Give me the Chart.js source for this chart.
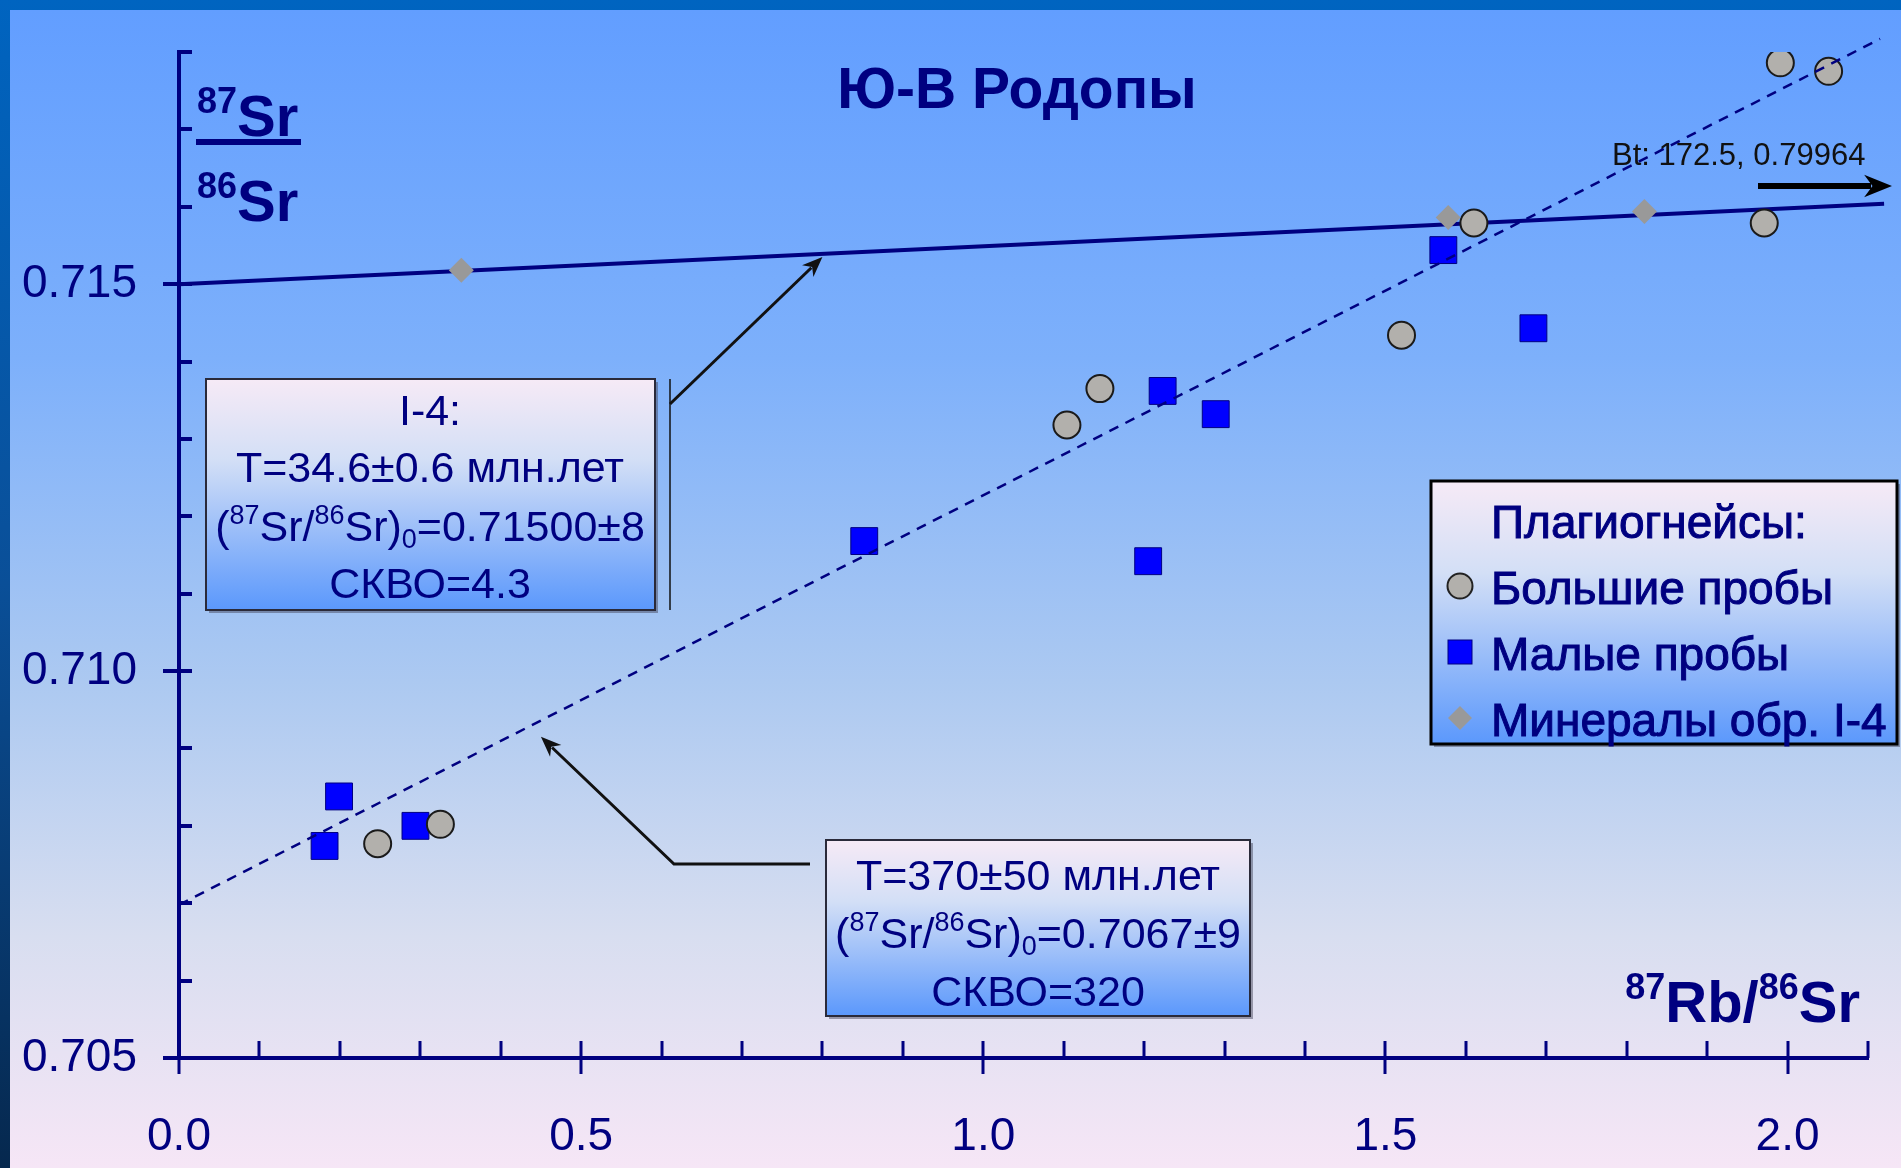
<!DOCTYPE html>
<html lang="ru">
<head>
<meta charset="utf-8">
<title>Ю-В Родопы — Rb-Sr изохроны</title>
<script src="https://cdn.jsdelivr.net/npm/chart.js@4.4.1/dist/chart.umd.min.js"></script>
<style>
    html, body { margin: 0; padding: 0; background: #0060b8; overflow: hidden; }
    #chart { display: block; }
</style>
</head>
<body>
<canvas id="chart" width="1901" height="1168"></canvas>
<script>
/**
 * Rb-Sr диаграмма плагиогнейсов Ю-В Родоп.
 * Оси, точки и линии рисует Chart.js; фон слайда, подписи в рамках,
 * стрелки и легенда — небольшие плагины поверх тех же шкал.
 */

// Плагиогнейсы: большие пробы (серые кружки)
const bigX = [0.247, 0.325, 1.104, 1.145, 1.520, 1.610, 1.971, 1.991, 2.051];
const bigY = [0.70777, 0.70802, 0.71318, 0.71365, 0.71434, 0.71579, 0.71579, 0.71786, 0.71775];

// Плагиогнейсы: малые пробы (синие квадраты)
const smallX = [0.181, 0.199, 0.294, 0.852, 1.205, 1.223, 1.289, 1.572, 1.684];
const smallY = [0.70774, 0.70838, 0.70800, 0.71168, 0.71142, 0.71362, 0.71332, 0.71544, 0.71443];

// Минералы обр. I-4 (серые ромбы)
const mineralX = [0.351, 1.578, 1.822];
const mineralY = [0.71518, 0.71586, 0.71594];

// Изохроны: концы отрезков
const isoMineralX = [0, 2.12];
const isoMineralY = [0.71500, 0.71604];
const isoRockX = [0, 2.115];
const isoRockY = [0.70698, 0.71817];

// Шкалы
const X_MIN = 0, X_MAX = 2.1, X_STEP = 0.1;
const Y_MIN = 0.705, Y_MAX = 0.718, Y_STEP = 0.001;

const NAVY = "#000080";
const FONT = "'Liberation Sans', Arial, Helvetica, sans-serif";

const pts = (xs, ys) => xs.map((x, i) => ({ x, y: ys[i] }));

/** Текст с верхними/нижними индексами: parts = [[текст, 0|1|2], ...] */
function drawRich(ctx, parts, x, y, size, weight, align, color, stroke = 0) {
    const fontFor = (k) => `${weight} ${k ? Math.round(size * 0.62) : size}px ${FONT}`;
    let w = 0;
    parts.forEach(([t, k]) => { ctx.font = fontFor(k); w += ctx.measureText(t).width; });
    let cx = align === "center" ? x - w / 2 : align === "right" ? x - w : x;
    ctx.fillStyle = color;
    ctx.strokeStyle = color;
    ctx.lineWidth = stroke;
    ctx.textAlign = "left";
    ctx.textBaseline = "alphabetic";
    parts.forEach(([t, k]) => {
        ctx.font = fontFor(k);
        const dy = k === 1 ? -size * 0.4 : k === 2 ? size * 0.17 : 0;
        ctx.fillText(t, cx, y + dy);
        if (stroke) ctx.strokeText(t, cx, y + dy);
        cx += ctx.measureText(t).width;
    });
}

function drawArrow(ctx, pts, width, head, color) {
    ctx.save();
    ctx.strokeStyle = color;
    ctx.fillStyle = color;
    ctx.lineWidth = width;
    ctx.lineJoin = "miter";
    const n = pts.length;
    const [x1, y1] = pts[n - 2];
    const [x2, y2] = pts[n - 1];
    const a = Math.atan2(y2 - y1, x2 - x1);
    ctx.beginPath();
    ctx.moveTo(pts[0][0], pts[0][1]);
    for (let i = 1; i < n - 1; i++) ctx.lineTo(pts[i][0], pts[i][1]);
    ctx.lineTo(x2 - Math.cos(a) * head * 0.7, y2 - Math.sin(a) * head * 0.7);
    ctx.stroke();
    // наконечник «стрелка с выемкой»
    ctx.beginPath();
    ctx.moveTo(x2, y2);
    ctx.lineTo(x2 - Math.cos(a - 0.38) * head, y2 - Math.sin(a - 0.38) * head);
    ctx.lineTo(x2 - Math.cos(a) * head * 0.65, y2 - Math.sin(a) * head * 0.65);
    ctx.lineTo(x2 - Math.cos(a + 0.38) * head, y2 - Math.sin(a + 0.38) * head);
    ctx.closePath();
    ctx.fill();
    ctx.restore();
}

function boxGradient(ctx, top, bottom) {
    const g = ctx.createLinearGradient(0, top, 0, bottom);
    g.addColorStop(0, "#f6eaf6");
    g.addColorStop(0.35, "#d3dff6");
    g.addColorStop(1, "#5b98fc");
    return g;
}

function drawBox(ctx, l, t, r, b, border, lw) {
    ctx.save();
    ctx.fillStyle = "rgba(60,60,80,0.45)";
    ctx.fillRect(l + 3, t + 3, r - l, b - t);
    ctx.fillStyle = boxGradient(ctx, t, b);
    ctx.fillRect(l, t, r - l, b - t);
    ctx.strokeStyle = border;
    ctx.lineWidth = lw;
    ctx.strokeRect(l, t, r - l, b - t);
    ctx.restore();
}

// Фон слайда: тёмная рамка + градиент голубой → розоватый
const slideBackground = {
    id: "slideBackground",
    beforeDraw(chart) {
        const { ctx, width, height } = chart;
        ctx.save();
        const frame = ctx.createLinearGradient(0, 0, 0, height);
        frame.addColorStop(0, "#0064c0");
        frame.addColorStop(0.5, "#0a4f98");
        frame.addColorStop(1, "#06284e");
        ctx.fillStyle = frame;
        ctx.fillRect(0, 0, width, height);
        const g = ctx.createLinearGradient(0, 10, 0, height);
        g.addColorStop(0, "#629eff");
        g.addColorStop(0.3, "#7db0fb");
        g.addColorStop(0.58, "#acc9f1");
        g.addColorStop(0.8, "#d8def0");
        g.addColorStop(1, "#f6e6f6");
        ctx.fillStyle = g;
        ctx.fillRect(10, 10, width - 10, height - 10);
        ctx.restore();
    },
};

// Засечки осей: большие через 0.005 / 0.5 (насквозь), малые внутрь
const axisTicks = {
    id: "axisTicks",
    afterDatasetsDraw(chart) {
        const { ctx, chartArea: a, scales: { x, y } } = chart;
        ctx.save();
        ctx.strokeStyle = NAVY;
        ctx.lineCap = "butt";
        y.ticks.forEach((t) => {
            const py = Math.round(y.getPixelForValue(t.value));
            const major = Math.round(t.value * 1000) % 5 === 0;
            ctx.lineWidth = 4;
            ctx.beginPath();
            ctx.moveTo(major ? a.left - 16 : a.left, py);
            ctx.lineTo(a.left + 13, py);
            ctx.stroke();
        });
        x.ticks.forEach((t) => {
            const px = Math.round(x.getPixelForValue(t.value));
            const major = Math.round(t.value * 10) % 5 === 0;
            ctx.lineWidth = 3;
            ctx.beginPath();
            ctx.moveTo(px, major ? a.bottom + 16 : a.bottom);
            ctx.lineTo(px, a.bottom - 17);
            ctx.stroke();
        });
        ctx.restore();
    },
};

// Заголовок, подписи осей, рамки с возрастами, стрелки, легенда
const annotations = {
    id: "annotations",
    afterDraw(chart) {
        const { ctx, scales: { x, y } } = chart;
        ctx.save();

        // заголовок
        drawRich(ctx, [["Ю-В Родопы", 0]], 1017, 108, 57, "bold", "center", NAVY);

        // подпись оси Y: 87Sr / 86Sr
        drawRich(ctx, [["87", 1], ["Sr", 0]], 197, 136, 58, "bold", "left", NAVY);
        ctx.fillStyle = NAVY;
        ctx.fillRect(196, 139, 105, 6);
        drawRich(ctx, [["86", 1], ["Sr", 0]], 197, 221, 58, "bold", "left", NAVY);

        // подпись оси X
        drawRich(ctx, [["87", 1], ["Rb/", 0], ["86", 1], ["Sr", 0]], 1860, 1022, 58, "bold", "right", NAVY);

        // Bt вне поля
        drawRich(ctx, [["Bt: 172.5, 0.79964", 0]], 1612, 165, 31, "normal", "left", "#111");
        drawArrow(ctx, [[1758, 186], [1892, 186]], 6, 30, "#000");

        // рамка I-4 и выноска к изохроне минералов
        drawBox(ctx, 206, 379, 655, 610, "#2a2a3a", 2);
        const sub0 = [["(", 0], ["87", 1], ["Sr/", 0], ["86", 1], ["Sr)", 0], ["0", 2]];
        drawRich(ctx, [["I-4:", 0]], 430, 425, 43, "normal", "center", NAVY);
        drawRich(ctx, [["T=34.6±0.6 млн.лет", 0]], 430, 482, 43, "normal", "center", NAVY);
        drawRich(ctx, [...sub0, ["=0.71500±8", 0]], 430, 541, 43, "normal", "center", NAVY);
        drawRich(ctx, [["СКВО=4.3", 0]], 430, 598, 43, "normal", "center", NAVY);
        ctx.strokeStyle = "#111";
        ctx.lineWidth = 1.5;
        ctx.beginPath();
        ctx.moveTo(670, 379);
        ctx.lineTo(670, 610);
        ctx.stroke();
        drawArrow(ctx, [[670, 404], [x.getPixelForValue(0.80), y.getPixelForValue(0.71535)]], 3, 22, "#111");

        // рамка валовых проб и выноска к изохроне
        drawBox(ctx, 826, 840, 1250, 1016, "#2a2a3a", 2);
        drawRich(ctx, [["T=370±50 млн.лет", 0]], 1038, 890, 43, "normal", "center", NAVY);
        drawRich(ctx, [...sub0, ["=0.7067±9", 0]], 1038, 948, 43, "normal", "center", NAVY);
        drawRich(ctx, [["СКВО=320", 0]], 1038, 1006, 43, "normal", "center", NAVY);
        drawArrow(ctx, [[810, 864], [674, 864], [x.getPixelForValue(0.45), y.getPixelForValue(0.70915)]], 3, 22, "#111");

        // легенда
        drawBox(ctx, 1431, 481, 1897, 744, "#000", 3);
        drawRich(ctx, [["Плагиогнейсы:", 0]], 1491, 538, 46, "normal", "left", NAVY, 1);
        const rows = ["Большие пробы", "Малые пробы", "Минералы обр. I-4"];
        rows.forEach((label, i) => {
            const cy = 586 + i * 66;
            drawRich(ctx, [[label, 0]], 1491, cy + 18, 46, "normal", "left", NAVY, 1);
            ctx.beginPath();
            if (i === 0) {
                ctx.arc(1460, cy, 12.5, 0, Math.PI * 2);
                ctx.fillStyle = "#b2b0ac";
                ctx.fill();
                ctx.lineWidth = 2;
                ctx.strokeStyle = "#222";
                ctx.stroke();
            } else if (i === 1) {
                ctx.fillStyle = "#0000ff";
                ctx.fillRect(1448, cy - 12, 24, 24);
                ctx.lineWidth = 1;
                ctx.strokeStyle = NAVY;
                ctx.strokeRect(1448, cy - 12, 24, 24);
            } else {
                ctx.moveTo(1460, cy - 12);
                ctx.lineTo(1472, cy);
                ctx.lineTo(1460, cy + 12);
                ctx.lineTo(1448, cy);
                ctx.closePath();
                ctx.fillStyle = "#999999";
                ctx.fill();
            }
        });
        ctx.restore();
    },
};

Chart.defaults.font.family = FONT;

new Chart(document.getElementById("chart"), {
    type: "scatter",
    data: {
        datasets: [
            {
                label: "Минералы обр. I-4",
                data: pts(mineralX, mineralY),
                pointStyle: "rectRot",
                pointRadius: 12.5,
                backgroundColor: "#999999",
                borderWidth: 0,
                order: 0,
            },
            {
                label: "Изохрона валовых проб",
                data: pts(isoRockX, isoRockY),
                showLine: true,
                pointRadius: 0,
                borderColor: NAVY,
                borderWidth: 2.5,
                borderDash: [10, 8],
                clip: false,
                order: 1,
            },
            {
                label: "Большие пробы",
                data: pts(bigX, bigY),
                pointStyle: "circle",
                pointRadius: 13.5,
                backgroundColor: "#b2b0ac",
                borderColor: "#1a1a1a",
                borderWidth: 2,
                order: 2,
            },
            {
                label: "Малые пробы",
                data: pts(smallX, smallY),
                pointStyle: "rect",
                pointRadius: 19,
                backgroundColor: "#0000ff",
                borderColor: NAVY,
                borderWidth: 1,
                order: 3,
            },
            {
                label: "Изохрона I-4",
                data: pts(isoMineralX, isoMineralY),
                showLine: true,
                pointRadius: 0,
                borderColor: NAVY,
                borderWidth: 4,
                clip: false,
                order: 4,
            },
        ],
    },
    options: {
        responsive: false,
        animation: false,
        events: [],
        // поле графика задаём явно: слева ось Y 179 px, снизу ось X 110 px
        layout: { padding: { left: 0, right: 33, top: 52, bottom: 0 } },
        plugins: { legend: { display: false }, tooltip: { enabled: false }, title: { display: false } },
        scales: {
            x: {
                type: "linear",
                min: X_MIN,
                max: X_MAX,
                afterFit: (s) => {
                    s.height = 110;
                    s.paddingLeft = 0;
                    s.paddingRight = 0;
                },
                grid: { display: false, drawTicks: false },
                border: { display: true, color: NAVY, width: 4 },
                ticks: {
                    stepSize: X_STEP,
                    autoSkip: false,
                    maxRotation: 0,
                    padding: 52,
                    color: NAVY,
                    font: { size: 46 },
                    callback: (v) => (Math.round(v * 10) % 5 === 0 ? (Math.round(v * 10) / 10).toFixed(1) : ""),
                },
            },
            y: {
                type: "linear",
                min: Y_MIN,
                max: Y_MAX,
                afterFit: (s) => {
                    s.width = 179;
                    s.paddingTop = 0;
                    s.paddingBottom = 0;
                },
                grid: { display: false, drawTicks: false },
                border: { display: true, color: NAVY, width: 4 },
                ticks: {
                    stepSize: Y_STEP,
                    autoSkip: false,
                    padding: 42,
                    color: NAVY,
                    font: { size: 46 },
                    callback: (v) => (Math.round(v * 1000) % 5 === 0 ? (Math.round(v * 1000) / 1000).toFixed(3) : ""),
                },
            },
        },
    },
    plugins: [slideBackground, axisTicks, annotations],
});
</script>
</body>
</html>
